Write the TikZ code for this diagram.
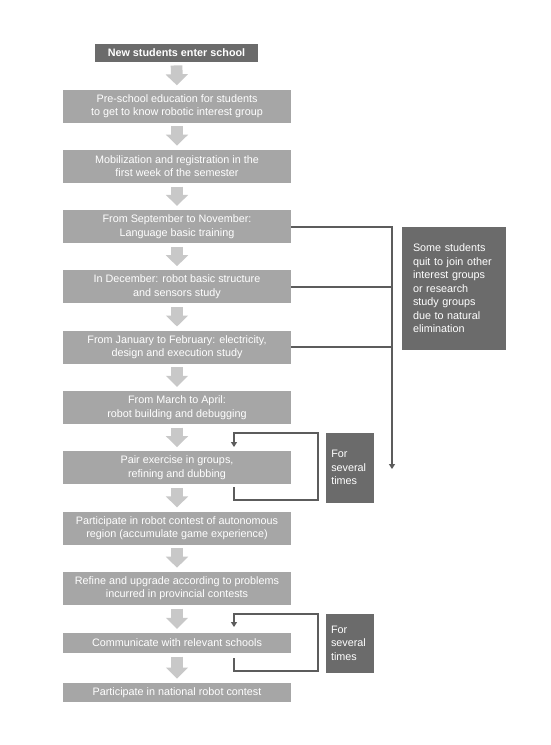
\documentclass[tikz,border=0pt]{standalone}
\usepackage{fontspec}
\setmainfont{Liberation Sans}
\usetikzlibrary{arrows.meta}
\definecolor{boxgray}{HTML}{A6A6A6}
\definecolor{arrgray}{HTML}{C8C8C8}
\definecolor{darkboxgray}{HTML}{6B6B6B}
\definecolor{linegray}{HTML}{5C5C5C}
\begin{document}
\begin{tikzpicture}[x=1pt,y=-1pt,
  every node/.style={font=\fontsize{10.8}{13.5}\selectfont, text=white, inner sep=0pt},
  stepbox/.style={fill=boxgray, minimum width=228pt, minimum height=33pt, align=center},
  darkbox/.style={fill=darkboxgray, align=left},
  blockarrow/.style={draw=arrgray, line width=11.7pt, -{Triangle[length=11pt,width=21.7pt]}, shorten <=3.5pt, shorten >=4pt},
  link/.style={draw=linegray, line width=2pt},
  linkarrow/.style={link, -{Triangle[length=5pt,width=6pt]}}]
\useasboundingbox (0,0) rectangle (550,745);
\fill[white] (0,0) rectangle (550,745);

\node[fill=darkboxgray, minimum width=163pt, minimum height=17.5pt,
      font=\fontsize{10.8}{13.5}\selectfont\bfseries] (b1) at (176.5,53) {New students enter school};
\node[stepbox] (b2) at (177,106) {Pre-school education for students\\to get to know robotic interest group};
\node[stepbox] (b3) at (177,166.3) {Mobilization and registration in the\\first week of the semester};
\node[stepbox] (b4) at (177,226.6) {From September to November:\\Language basic training};
\node[stepbox] (b5) at (177,286.9) {In December: robot basic structure\\and sensors study};
\node[stepbox] (b6) at (177,347.2) {From January to February: electricity,\\design and execution study};
\node[stepbox] (b7) at (177,407.5) {From March to April:\\robot building and debugging};
\node[stepbox] (b8) at (177,467.8) {Pair exercise in groups,\\refining and dubbing};
\node[stepbox] (b9) at (177,528.1) {Participate in robot contest of autonomous\\region (accumulate game experience)};
\node[stepbox] (b10) at (177,588.4) {Refine and upgrade according to problems\\incurred in provincial contests};
\node[stepbox, minimum height=20pt] (b11) at (177,643) {Communicate with relevant schools};
\node[stepbox, minimum height=19.5pt] (b12) at (177,692.5) {Participate in national robot contest};

\node[darkbox, text width=82pt, inner xsep=11pt, minimum height=123pt] (quit) at (454,288.5)
  {Some students\\quit to join other\\interest groups\\or research\\study groups\\due to natural\\elimination};
\node[darkbox, text width=38pt, inner xsep=5pt, minimum height=70pt] (f1) at (350.3,467.7) {For\\several\\times};
\node[darkbox, text width=38pt, inner xsep=5pt, minimum height=58.7pt] (f2) at (350,643.3) {For\\several\\times};

\foreach \a/\b in {b1/b2,b2/b3,b3/b4,b4/b5,b5/b6,b6/b7,b7/b8,b8/b9,b9/b10,b10/b11,b11/b12}
  \draw[blockarrow] (\a.south) -- (\b.north);

\coordinate (vend) at (392,469);
\draw[linkarrow] (b4.east) -| (vend);
\draw[link] (b5.east) -- (b5.east -| vend);
\draw[link] (b6.east) -- (b6.east -| vend);

\coordinate (l1s) at (234,487);
\coordinate (l1e) at (234,447);
\draw[linkarrow] (l1s) |- (318,500) |- (234,433) -- (l1e);

\coordinate (l2s) at (234,658);
\coordinate (l2e) at (234,627);
\draw[linkarrow] (l2s) |- (318,671) |- (234,614) -- (l2e);
\end{tikzpicture}
\end{document}
